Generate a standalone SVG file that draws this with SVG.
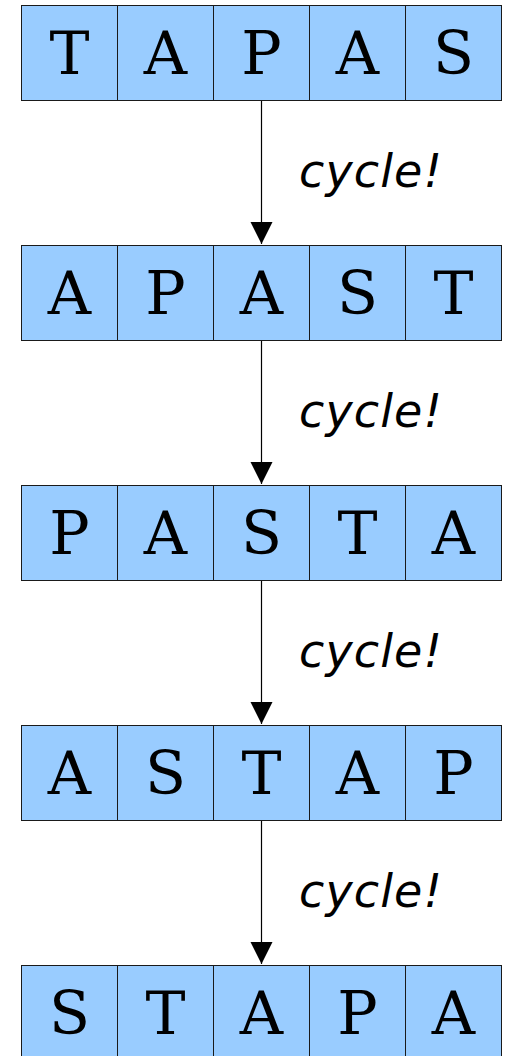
<svg xmlns="http://www.w3.org/2000/svg" width="506" height="1056" viewBox="0 0 506 1056">
<style>
.cell{fill:#99ccff;stroke:#1a1a1a;stroke-width:1}
.ltr{font-family:"DejaVu Serif",serif;font-size:60px;fill:#000;text-anchor:middle}
.lbl{font-family:"DejaVu Sans",sans-serif;font-style:italic;font-weight:200;font-size:46px;fill:#000}
.conn{stroke:#000;stroke-width:1.2;fill:none}
</style>
<defs>
<marker id="ah" markerUnits="userSpaceOnUse" markerWidth="24" markerHeight="24" refX="22" refY="11" orient="auto" viewBox="0 0 24 22">
<path d="M0,0 L22,11 L0,22 Z" fill="#000"/>
</marker>
</defs>
<g id="connectors">
<line class="conn" x1="261.5" y1="101" x2="261.5" y2="244" marker-end="url(#ah)"/>
<line class="conn" x1="261.5" y1="341" x2="261.5" y2="484" marker-end="url(#ah)"/>
<line class="conn" x1="261.5" y1="581" x2="261.5" y2="724" marker-end="url(#ah)"/>
<line class="conn" x1="261.5" y1="821" x2="261.5" y2="964" marker-end="url(#ah)"/>
<text class="lbl" x="299" y="187" textLength="143">cycle!</text>
<text class="lbl" x="299" y="427" textLength="143">cycle!</text>
<text class="lbl" x="299" y="667" textLength="143">cycle!</text>
<text class="lbl" x="299" y="907" textLength="143">cycle!</text>
</g>
<g id="row1">
<rect class="cell" x="21.5" y="5.5" width="96" height="95"/><rect class="cell" x="117.5" y="5.5" width="96" height="95"/><rect class="cell" x="213.5" y="5.5" width="96" height="95"/><rect class="cell" x="309.5" y="5.5" width="96" height="95"/><rect class="cell" x="405.5" y="5.5" width="96" height="95"/>
<text class="ltr" x="69.5" y="74">T</text><text class="ltr" x="165.5" y="74">A</text><text class="ltr" x="261.5" y="74">P</text><text class="ltr" x="357.5" y="74">A</text><text class="ltr" x="453.5" y="74">S</text>
</g>
<g id="row2">
<rect class="cell" x="21.5" y="245.5" width="96" height="95"/><rect class="cell" x="117.5" y="245.5" width="96" height="95"/><rect class="cell" x="213.5" y="245.5" width="96" height="95"/><rect class="cell" x="309.5" y="245.5" width="96" height="95"/><rect class="cell" x="405.5" y="245.5" width="96" height="95"/>
<text class="ltr" x="69.5" y="314">A</text><text class="ltr" x="165.5" y="314">P</text><text class="ltr" x="261.5" y="314">A</text><text class="ltr" x="357.5" y="314">S</text><text class="ltr" x="453.5" y="314">T</text>
</g>
<g id="row3">
<rect class="cell" x="21.5" y="485.5" width="96" height="95"/><rect class="cell" x="117.5" y="485.5" width="96" height="95"/><rect class="cell" x="213.5" y="485.5" width="96" height="95"/><rect class="cell" x="309.5" y="485.5" width="96" height="95"/><rect class="cell" x="405.5" y="485.5" width="96" height="95"/>
<text class="ltr" x="69.5" y="554">P</text><text class="ltr" x="165.5" y="554">A</text><text class="ltr" x="261.5" y="554">S</text><text class="ltr" x="357.5" y="554">T</text><text class="ltr" x="453.5" y="554">A</text>
</g>
<g id="row4">
<rect class="cell" x="21.5" y="725.5" width="96" height="95"/><rect class="cell" x="117.5" y="725.5" width="96" height="95"/><rect class="cell" x="213.5" y="725.5" width="96" height="95"/><rect class="cell" x="309.5" y="725.5" width="96" height="95"/><rect class="cell" x="405.5" y="725.5" width="96" height="95"/>
<text class="ltr" x="69.5" y="794">A</text><text class="ltr" x="165.5" y="794">S</text><text class="ltr" x="261.5" y="794">T</text><text class="ltr" x="357.5" y="794">A</text><text class="ltr" x="453.5" y="794">P</text>
</g>
<g id="row5">
<rect class="cell" x="21.5" y="965.5" width="96" height="95"/><rect class="cell" x="117.5" y="965.5" width="96" height="95"/><rect class="cell" x="213.5" y="965.5" width="96" height="95"/><rect class="cell" x="309.5" y="965.5" width="96" height="95"/><rect class="cell" x="405.5" y="965.5" width="96" height="95"/>
<text class="ltr" x="69.5" y="1034">S</text><text class="ltr" x="165.5" y="1034">T</text><text class="ltr" x="261.5" y="1034">A</text><text class="ltr" x="357.5" y="1034">P</text><text class="ltr" x="453.5" y="1034">A</text>
</g>
</svg>
